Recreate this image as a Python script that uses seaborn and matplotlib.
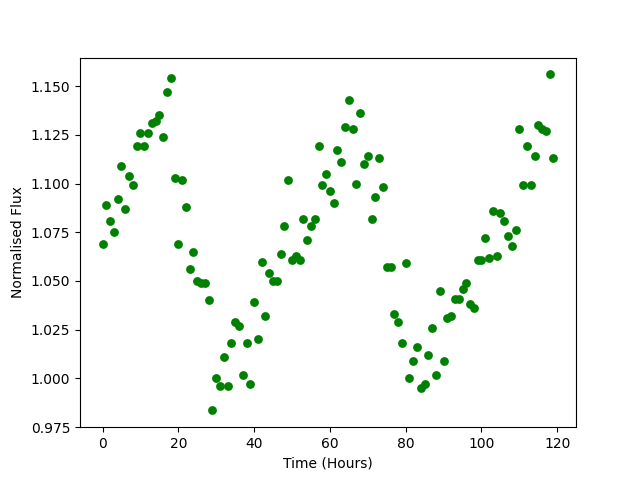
import numpy as np
import pandas as pd
import matplotlib
matplotlib.use('Agg')
import matplotlib.pyplot as plt
import seaborn as sns

# Hourly flux readings
hours = list(range(120))
flux = [
    1.069, 1.089, 1.081, 1.075, 1.092, 1.109, 1.087, 1.104, 1.099, 1.119,
    1.126, 1.119, 1.126, 1.131, 1.132, 1.135, 1.124, 1.147, 1.154, 1.103,
    1.069, 1.102, 1.088, 1.056, 1.065, 1.050, 1.049, 1.049, 1.040, 0.984,
    1.000, 0.996, 1.011, 0.996, 1.018, 1.029, 1.027, 1.002, 1.018, 0.997,
    1.039, 1.020, 1.060, 1.032, 1.054, 1.050, 1.050, 1.064, 1.078, 1.102,
    1.061, 1.063, 1.061, 1.082, 1.071, 1.078, 1.082, 1.119, 1.099, 1.105,
    1.096, 1.090, 1.117, 1.111, 1.129, 1.143, 1.128, 1.100, 1.136, 1.110,
    1.114, 1.082, 1.093, 1.113, 1.098, 1.057, 1.057, 1.033, 1.029, 1.018,
    1.059, 1.000, 1.009, 1.016, 0.995, 0.997, 1.012, 1.026, 1.002, 1.045,
    1.009, 1.031, 1.032, 1.041, 1.041, 1.046, 1.049, 1.038, 1.036, 1.061,
    1.061, 1.072, 1.062, 1.086, 1.063, 1.085, 1.081, 1.073, 1.068, 1.076,
    1.128, 1.099, 1.119, 1.099, 1.114, 1.130, 1.128, 1.127, 1.156, 1.113,
]

df = pd.DataFrame({'hours': hours, 'flux': flux})

fig, ax = plt.subplots(figsize=(6.4, 4.8), dpi=100)
sns.scatterplot(data=df, x='hours', y='flux', color='green',
                edgecolor='green', linewidth=0, s=40, ax=ax)
ax.set_xlabel('Time (Hours)')
ax.set_ylabel('Normalised Flux')
ax.set_yticks([0.975, 1.000, 1.025, 1.050, 1.075, 1.100, 1.125, 1.150])
ax.yaxis.set_major_formatter(matplotlib.ticker.FormatStrFormatter('%.3f'))

plt.savefig('out.png', dpi=100)
